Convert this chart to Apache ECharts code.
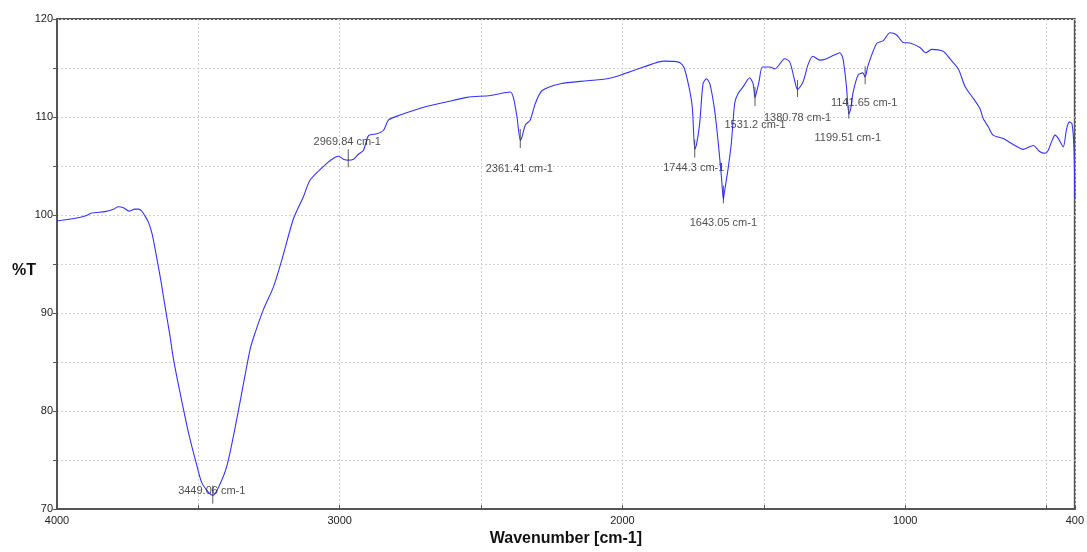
<!DOCTYPE html>
<html>
<head>
<meta charset="utf-8">
<script src="https://cdn.jsdelivr.net/npm/echarts@6/dist/echarts.min.js"></script>
<style>
html,body{margin:0;padding:0;background:#fff;}
#chart{width:1087px;height:552px;}
</style>
</head>
<body>
<div id="chart"></div>
<script>
// ---- Data ----
const wavenumbers = [
  4000, 3950, 3901, 3877, 3830, 3800, 3783, 3765, 3745, 3725, 3712, 3700, 3691, 3677, 3663,
  3647, 3632, 3618, 3600, 3588, 3565, 3535, 3505, 3488, 3464, 3449, 3429, 3399, 3364, 3317,
  3299, 3270, 3234, 3205, 3164, 3128, 3104, 3045, 3016, 3004, 2987, 2970, 2951, 2934, 2916,
  2898, 2868, 2845, 2827, 2786, 2715, 2621, 2550, 2467, 2396, 2385, 2373, 2361, 2355, 2343,
  2326, 2308, 2284, 2219, 2125, 2054, 1995, 1925, 1854, 1801, 1783, 1765, 1753, 1744, 1738,
  1727, 1715, 1703, 1691, 1674, 1662, 1650, 1643, 1640, 1627, 1615, 1603, 1591, 1573, 1550,
  1538, 1531, 1526, 1517, 1505, 1479, 1461, 1426, 1408, 1390, 1381, 1361, 1343, 1326, 1302,
  1278, 1249, 1231, 1220, 1208, 1199, 1193, 1184, 1166, 1150, 1142, 1131, 1101, 1077, 1054,
  1031, 1007, 983, 948, 927, 907, 866, 842, 812, 788, 759, 736, 724, 706, 689,
  653, 618, 582, 547, 523, 505, 494, 482, 470, 458, 441, 429, 419, 410, 403, 400
];
const transmittance = [
  99.4, 99.6, 99.9, 100.2, 100.35, 100.6, 100.85, 100.75, 100.4, 100.6, 100.6, 100.4, 100.0, 99.3, 98.0,
  95.6, 93.2, 90.7, 87.6, 85.3, 81.9, 77.8, 74.4, 72.7, 71.7, 71.4, 72.2, 74.4, 79.2, 86.3,
  88.0, 90.35, 92.7, 95.4, 99.6, 101.9, 103.6, 105.3, 105.9, 106.0, 105.7, 105.6, 105.7, 106.2, 106.6,
  108.1, 108.3, 108.65, 109.7, 110.2, 110.9, 111.55, 112.0, 112.2, 112.55, 111.9, 110.0, 107.6, 108.0, 109.2,
  109.7, 111.4, 112.7, 113.4, 113.7, 113.9, 114.4, 115.1, 115.7, 115.6, 115.1, 113.1, 111.0, 106.7, 107.2,
  109.3, 113.4, 113.9, 113.4, 110.7, 107.6, 103.9, 101.6, 102.2, 104.6, 107.3, 111.4, 112.4, 113.1, 114.0,
  113.4, 112.0, 112.5, 113.6, 115.1, 115.1, 114.9, 115.95, 115.6, 113.6, 112.8, 113.6, 115.4, 116.2, 115.8,
  115.95, 116.35, 116.55, 115.95, 113.2, 110.3, 110.8, 112.55, 114.3, 114.5, 114.1, 115.3, 117.5, 117.8, 118.6,
  118.4, 117.6, 117.55, 117.1, 116.55, 116.9, 116.7, 115.95, 114.9, 113.1, 111.9, 110.9, 109.85, 109.0, 108.15,
  107.8, 107.2, 106.7, 107.1, 106.45, 106.3, 106.6, 107.5, 108.15, 107.8, 106.95, 108.8, 109.5, 109.3, 106.9, 101.7
];
const peakWavenumbers = [3449.06, 2969.84, 2361.41, 1744.3, 1643.05, 1531.2, 1380.78, 1199.51, 1141.65];
const peakMarkerT = [71.5, 105.8, 107.8, 106.8, 102.1, 112.1, 112.9, 110.5, 114.25];
const xLabelValues = [4000, 3000, 2000, 1000, 400];
const xGridValues = [4000, 3500, 3000, 2500, 2000, 1500, 1000, 500, 400];

// ---- Styling for peak annotations (pixel offsets, not data) ----
const peakLabelOffsets = [[-1,-3],[-1,-16],[-1,30],[-1,20],[0,29],[0,29],[0,29],[-1,26],[-1,28]];
const peakTickLengths = [18,18,19,18,18,19,17,13,18];

const FONT = '"Liberation Sans", Arial, Helvetica, sans-serif';
const chart = echarts.init(document.getElementById('chart'), null, {renderer: 'canvas'});

const spectrum = wavenumbers.map((w, i) => [w, transmittance[i]]);
const peaks = peakWavenumbers.map((w, i) => ({
  value: [w, peakMarkerT[i]],
  symbolSize: [1, peakTickLengths[i]],
  label: {offset: peakLabelOffsets[i]}
}));

chart.setOption({
  animation: false,
  backgroundColor: '#fff',
  grid: {left: 57, right: 12, top: 19, bottom: 42, show: true, borderColor: '#555', borderWidth: 2, backgroundColor: 'transparent'},
  graphic: [
    {type: 'text', left: 12, top: 263, silent: true,
      style: {text: '%T', font: 'bold 16px ' + FONT, fill: '#111'}}
  ],
  xAxis: {
    type: 'value', min: 400, max: 4000, inverse: true,
    name: 'Wavenumber [cm-1]', nameLocation: 'middle', nameGap: 19,
    nameTextStyle: {fontFamily: FONT, fontSize: 16, fontWeight: 'bold', color: '#111'},
    axisLine: {show: true, lineStyle: {color: '#555', width: 2}},
    axisTick: {show: true, inside: true, length: 4, customValues: xGridValues, lineStyle: {color: '#555'}},
    axisLabel: {customValues: xLabelValues, fontFamily: FONT, fontSize: 11, color: '#222', margin: 6,
      formatter: v => String(v)},
    splitLine: {show: true, lineStyle: {color: '#d0d0d0', type: [2, 2], width: 1}}
  },
  yAxis: {
    type: 'value', min: 70, max: 120, interval: 5,
    axisLine: {show: true, lineStyle: {color: '#555', width: 2}},
    axisTick: {show: true, inside: false, length: 4, lineStyle: {color: '#555'}},
    axisLabel: {fontFamily: FONT, fontSize: 11, color: '#222', margin: 4,
      formatter: v => (v % 10 === 0 ? String(v) : '')},
    splitLine: {show: true, lineStyle: {color: '#d0d0d0', type: [2, 2], width: 1}}
  },
  series: [
    {
      type: 'line', data: spectrum, showSymbol: false, smooth: 0.25, z: 3,
      lineStyle: {color: '#3434ff', width: 1.1}, itemStyle: {color: '#3434ff'}
    },
    {
      type: 'scatter', data: peaks, symbol: 'rect', z: 4,
      itemStyle: {color: '#333'},
      label: {show: true, position: 'inside', fontFamily: FONT, fontSize: 11, color: '#222',
        formatter: p => p.value[0] + ' cm-1'}
    }
  ]
});
</script>
</body>
</html>
